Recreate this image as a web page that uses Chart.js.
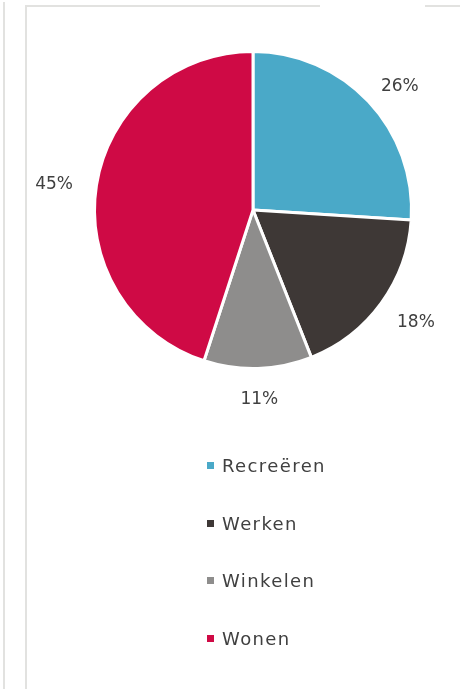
<!DOCTYPE html>
<html>
<head>
<meta charset="utf-8">
<script src="https://cdn.jsdelivr.net/npm/chart.js@4/dist/chart.umd.min.js"></script>
<style>
    body { margin: 0; background: #fff; font-family: "DejaVu Sans", sans-serif; }
    #page { position: relative; width: 470px; height: 689px; overflow: hidden; background: #fff; }
    .rule { position: absolute; background: #e2e2e0; }
    #chartBox { position: absolute; left: 0; top: 0; width: 470px; height: 440px; }
    #legend { position: absolute; left: 207px; top: 437px; margin: 0; padding: 0; list-style: none; }
    #legend li { display: flex; align-items: center; height: 57.6px; font-size: 18px; color: #404040; letter-spacing: 1.4px; }
    #legend li span { width: 7px; height: 7px; margin-right: 8px; }
</style>
</head>
<body>
<div id="page">
    <div class="rule" style="left:3px;top:2px;width:2px;height:687px"></div>
    <div class="rule" style="left:25px;top:5px;width:2px;height:684px"></div>
    <div class="rule" style="left:25px;top:5px;width:295px;height:2px"></div>
    <div class="rule" style="left:425px;top:5px;width:35px;height:2px"></div>
    <div id="chartBox"><canvas id="pieChart"></canvas></div>
    <ul id="legend"></ul>
</div>
<script>
const categories = ["Recreëren", "Werken", "Winkelen", "Wonen"];
const shares = [26, 18, 11, 45];
const sliceColors = ["#4aa9c8", "#3e3836", "#8e8d8c", "#cf0a45"];

// percentage labels just outside each slice, pushed away from the pie by half their width
const outsideLabels = {
    id: "outsideLabels",
    afterDatasetsDraw(chart) {
        const ctx = chart.ctx;
        const meta = chart.getDatasetMeta(0);
        ctx.save();
        ctx.font = "normal normal 400 17px \"DejaVu Sans\", sans-serif";
        ctx.fillStyle = "#404040";
        ctx.textAlign = "center";
        ctx.textBaseline = "middle";
        meta.data.forEach((arc, i) => {
            const text = shares[i] + "%";
            const mid = (arc.startAngle + arc.endAngle) / 2;
            const cos = Math.cos(mid), sin = Math.sin(mid);
            const r = arc.outerRadius + 24;
            const w = ctx.measureText(text).width;
            const x = arc.x + cos * r + cos * w / 2;
            const y = arc.y + sin * r + sin * 3 + 4;
            ctx.fillText(text, x, y);
        });
        ctx.restore();
    }
};

const ctx = document.getElementById("pieChart").getContext("2d");
const pieChart = new Chart(ctx, {
    type: "pie",
    data: {
        labels: categories,
        datasets: [{
            data: shares,
            backgroundColor: sliceColors,
            borderColor: "#ffffff",
            borderWidth: 3
        }]
    },
    options: {
        responsive: true,
        maintainAspectRatio: false,
        animation: false,
        layout: { padding: { left: 93, right: 57, top: 50, bottom: 70 } },
        plugins: {
            legend: { display: false },
            tooltip: { enabled: false }
        }
    },
    plugins: [outsideLabels]
});

const legendBox = document.getElementById("legend");
pieChart.options.plugins.legend.labels.generateLabels(pieChart).forEach(item => {
    const li = document.createElement("li");
    const box = document.createElement("span");
    box.style.background = item.fillStyle;
    li.appendChild(box);
    li.appendChild(document.createTextNode(item.text));
    legendBox.appendChild(li);
});
</script>
</body>
</html>
